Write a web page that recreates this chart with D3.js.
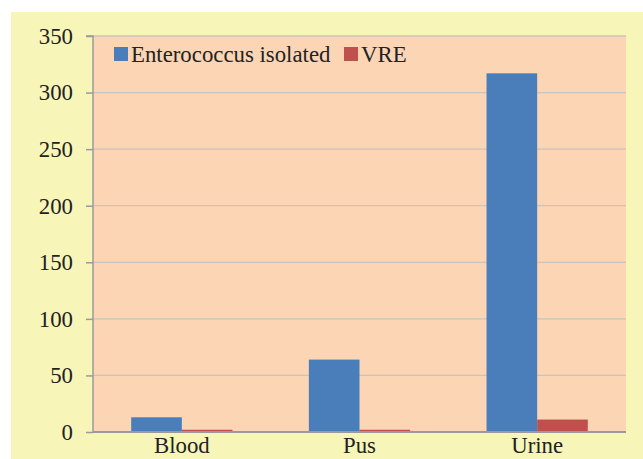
<!DOCTYPE html>
<html><head><meta charset="utf-8">
<script src="https://cdn.jsdelivr.net/npm/d3@7"></script>
<style>html,body{margin:0;padding:0;background:#fff;}svg{display:block;}</style>
</head><body>
<svg id="c" width="643" height="459"></svg>
<script>
const categories = ["Blood", "Pus", "Urine"];
const seriesNames = ["Enterococcus isolated", "VRE"];
const enterococcus = [13, 64, 317];
const vre = [2, 2, 11];
const yTicks = [0, 50, 100, 150, 200, 250, 300, 350];
const colors = ["#4a7ebb", "#c0504d"];

const svg = d3.select("#c");
const font = "'Liberation Serif', 'Times New Roman', serif";
const fs = 22.8;
svg.append("rect").attr("x", 11).attr("y", 12).attr("width", 632).attr("height", 447).attr("fill", "#f8f5b9");

const m = {l: 93, t: 36, r: 626, b: 432};
const x = d3.scaleBand().domain(categories).range([m.l, m.r]).paddingInner(0.43).paddingOuter(0.215);
const xs = d3.scaleBand().domain(seriesNames).range([0, x.bandwidth()]);
const y = d3.scaleLinear().domain([0, 350]).range([m.b, m.t]);

svg.append("rect").attr("x", m.l).attr("y", m.t).attr("width", m.r - m.l).attr("height", m.b - m.t).attr("fill", "#fcd5b5");

// gridlines
svg.append("g").selectAll("line").data(yTicks.filter(d => d > 0)).join("line")
  .attr("x1", m.l).attr("x2", m.r).attr("y1", d => y(d)).attr("y2", d => y(d))
  .attr("stroke", "#c8c4be").attr("stroke-width", 1.3);

// bars
const data = categories.map((c, i) => ({c, vals: [enterococcus[i], vre[i]]}));
const g = svg.append("g").selectAll("g").data(data).join("g").attr("transform", d => `translate(${x(d.c)},0)`);
g.selectAll("rect").data(d => d.vals.map((v, j) => ({v, s: seriesNames[j], j}))).join("rect")
  .attr("x", d => xs(d.s)).attr("width", xs.bandwidth())
  .attr("y", d => y(d.v)).attr("height", d => y(0) - y(d.v))
  .attr("fill", d => colors[d.j]);

// y axis
const ya = svg.append("g").attr("transform", `translate(${m.l},0)`)
  .call(d3.axisLeft(y).tickValues(yTicks).tickSize(7).tickPadding(13));
ya.select(".domain").attr("stroke", "#9a9a9a").attr("stroke-width", 1.5).attr("d", `M-7,${m.t}H0V${m.b}`);
ya.selectAll(".tick line").attr("stroke", "#9a9a9a").attr("stroke-width", 1.5);
ya.selectAll(".tick text").attr("font-family", font).attr("font-size", fs).attr("fill", "#222");

// x axis
const xa = svg.append("g").attr("transform", `translate(0,${m.b})`)
  .call(d3.axisBottom(x).tickSize(0).tickPadding(5));
xa.select(".domain").attr("stroke", "#9a9a9a").attr("stroke-width", 2).attr("d", `M${m.l},0H${m.r}`);
xa.selectAll(".tick text").attr("font-family", font).attr("font-size", fs).attr("fill", "#222");

// legend
const leg = svg.append("g").attr("font-family", font).attr("font-size", fs).attr("fill", "#222");
const legX = [114, 344];
seriesNames.forEach((s, i) => {
  leg.append("rect").attr("x", legX[i]).attr("y", 47).attr("width", 14).attr("height", 14).attr("fill", colors[i]);
  leg.append("text").attr("x", legX[i] + 17).attr("y", 62).text(s);
});
</script>
</body></html>
